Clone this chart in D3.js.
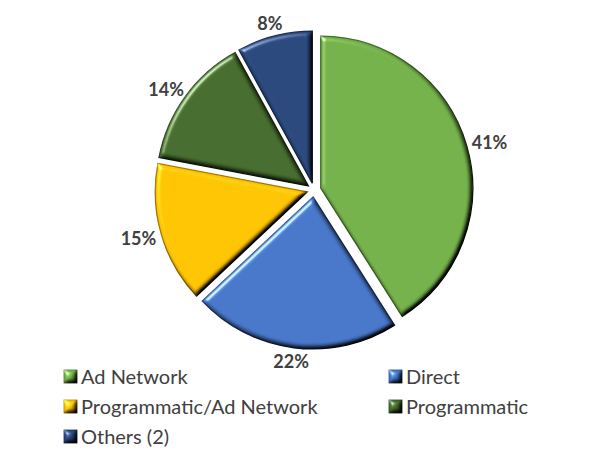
<!DOCTYPE html>
<html>
<head>
<meta charset="utf-8">
<script src="https://cdn.jsdelivr.net/npm/d3@7"></script>
<style>
  html, body { margin: 0; padding: 0; background: #ffffff; }
  svg { display: block; }
</style>
</head>
<body>
<svg id="chart" width="593" height="460"></svg>
<script>
// ---- data ----
const categories = ["Ad Network", "Direct", "Programmatic/Ad Network", "Programmatic", "Others (2)"];
const values = [41, 22, 15, 14, 8];
const colors = ["#70AD47", "#4472C4", "#FFC000", "#43682B", "#264478"];
const valueLabels = ["41%", "22%", "15%", "14%", "8%"];

// ---- layout ----
const W = 593, H = 460;
const cx = 314, cy = 190;
const radius = 152;
const explode = 7;
const labelR = 165;

const svg = d3.select("#chart");
svg.append("rect").attr("width", W).attr("height", H).attr("fill", "#fff");

const defs = svg.append("defs");
const f = defs.append("filter").attr("id", "bevel")
  .attr("color-interpolation-filters", "sRGB")
  .attr("x", "-10%").attr("y", "-10%").attr("width", "120%").attr("height", "120%");
f.append("feGaussianBlur").attr("in", "SourceAlpha").attr("stdDeviation", 2.6).attr("result", "blur");
const diff = f.append("feDiffuseLighting").attr("in", "blur").attr("surfaceScale", 4)
  .attr("diffuseConstant", 1.35).attr("lighting-color", "#ffffff").attr("result", "diff");
diff.append("feDistantLight").attr("azimuth", 225).attr("elevation", 48);
f.append("feComposite").attr("in", "SourceGraphic").attr("in2", "diff")
  .attr("operator", "arithmetic").attr("k1", 1).attr("k2", 0).attr("k3", 0).attr("k4", 0).attr("result", "shaded");
const spec = f.append("feSpecularLighting").attr("in", "blur").attr("surfaceScale", 4)
  .attr("specularConstant", 0.8).attr("specularExponent", 22).attr("lighting-color", "#ffffff").attr("result", "spec");
spec.append("feDistantLight").attr("azimuth", 225).attr("elevation", 30);
f.append("feComposite").attr("in", "spec").attr("in2", "SourceAlpha").attr("operator", "in").attr("result", "specIn");
f.append("feComposite").attr("in", "shaded").attr("in2", "specIn")
  .attr("operator", "arithmetic").attr("k1", 0).attr("k2", 1).attr("k3", 0.7).attr("k4", 0);

const data = categories.map((c, i) => ({ name: c, value: values[i], color: colors[i], label: valueLabels[i] }));

const pie = d3.pie().value(d => d.value).sort(null);
const arcs = pie(data);
const arc = d3.arc().innerRadius(0).outerRadius(radius);

const g = svg.append("g").attr("transform", `translate(${cx},${cy})`);

arcs.forEach(a => {
  const mid = (a.startAngle + a.endAngle) / 2;
  const dx = Math.sin(mid) * explode, dy = -Math.cos(mid) * explode;
  const sg = g.append("g").attr("transform", `translate(${dx},${dy})`);
  sg.append("path")
    .attr("d", arc(a))
    .attr("fill", a.data.color)
    .attr("stroke", d3.color(a.data.color).darker(1.3))
    .attr("stroke-width", 1.3)
    .attr("filter", "url(#bevel)");
});

// value labels
arcs.forEach(a => {
  const mid = (a.startAngle + a.endAngle) / 2;
  const s = Math.sin(mid), c = -Math.cos(mid);
  const t = g.append("text")
    .attr("font-family", "Lato, 'Open Sans', sans-serif")
    .attr("font-weight", "bold")
    .attr("font-size", 18)
    .attr("fill", "#404040")
    .attr("text-anchor", "middle")
    .attr("dominant-baseline", "central")
    .text(a.data.label);
  const w = t.node().getComputedTextLength();
  const h = 14;
  t.attr("x", s * labelR + s * w / 2).attr("y", c * labelR + c * h / 2);
});

// legend
const legend = svg.append("g").attr("font-family", "Lato, 'Open Sans', sans-serif").attr("font-size", 20);
const colX = [64, 389];
const rowY = [376, 406, 436];
data.forEach((d, i) => {
  const x = colX[i % 2], y = rowY[Math.floor(i / 2)];
  const item = legend.append("g").attr("transform", `translate(${x},${y})`);
  item.append("rect").attr("x", 0).attr("y", -6).attr("width", 13).attr("height", 13)
    .attr("fill", d.color).attr("stroke", d3.color(d.color).darker(1)).attr("stroke-width", 0.8)
    .attr("filter", "url(#bevel)");
  item.append("text").attr("x", 17).attr("y", 0).attr("dominant-baseline", "central")
    .attr("fill", "#404040").text(d.name);
});
</script>
</body>
</html>
